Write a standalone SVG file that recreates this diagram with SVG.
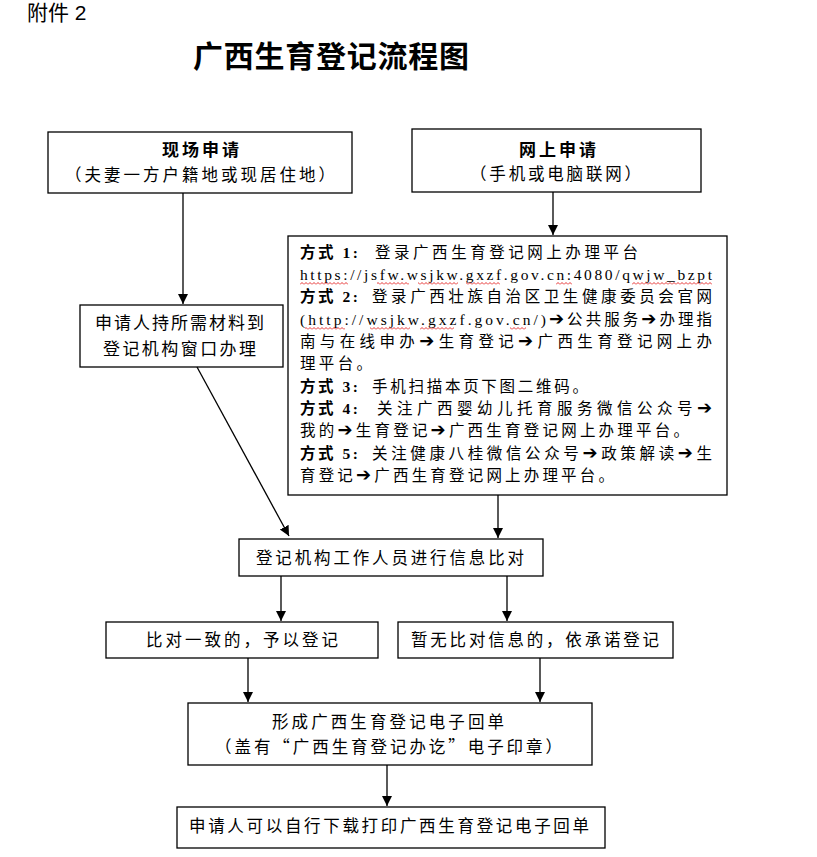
<svg xmlns="http://www.w3.org/2000/svg" width="817" height="857" viewBox="0 0 817 857">
<style>
.t{font-family:"Noto Sans CJK SC",sans-serif;fill:#000;font-size:16.5px}
.h{font-weight:bold;font-size:17px}
.b4{font-family:"Liberation Serif","Noto Sans CJK SC",serif;font-size:15.5px;fill:#000}
.lab{font-weight:bold}
.ar{font-family:"DejaVu Sans",sans-serif;font-weight:bold;font-size:18px}
.box{fill:#fff;stroke:#000;stroke-width:1.3}
.conn line{stroke:#000;stroke-width:1.3;marker-end:url(#ah)}
.wv{fill:url(#wavy)}
</style>
<defs>
<marker id="ah" markerUnits="userSpaceOnUse" markerWidth="11" markerHeight="11" refX="10" refY="5" orient="auto">
<path d="M0,0 L10,5 L0,10 z" fill="#000"/>
</marker>
<pattern id="wavy" x="0" y="0" width="4" height="3" patternUnits="userSpaceOnUse">
<path d="M0,2.5 L2,0.5 L4,2.5" fill="none" stroke="#e00000" stroke-width="0.8"/>
</pattern>
</defs>
<rect width="817" height="857" fill="#fff"/>

<text x="27" y="20" style="font-family:'Liberation Sans','Noto Sans CJK SC',sans-serif;font-size:21px">附件 2</text>
<text x="193" y="67" class="t" style="font-size:30px;font-weight:bold" textLength="276" lengthAdjust="spacing">广西生育登记流程图</text>

<g id="node-onsite">
<rect class="box" x="48" y="132" width="304" height="61"/>
<text class="t h" x="162" y="156" textLength="77" lengthAdjust="spacing">现场申请</text>
<text class="t" x="65" y="181" textLength="270" lengthAdjust="spacing">（夫妻一方户籍地或现居住地）</text>
</g>

<g id="node-online">
<rect class="box" x="412" y="129" width="289" height="63"/>
<text class="t h" x="519" y="156" textLength="77" lengthAdjust="spacing">网上申请</text>
<text class="t" x="470" y="180" textLength="171" lengthAdjust="spacing">（手机或电脑联网）</text>
</g>

<g id="node-window">
<rect class="box" x="80" y="305" width="203" height="62"/>
<text class="t" style="font-size:17px" x="95" y="329" textLength="169" lengthAdjust="spacing">申请人持所需材料到</text>
<text class="t" style="font-size:17px" x="103" y="355" textLength="153" lengthAdjust="spacing">登记机构窗口办理</text>
</g>

<g id="node-methods">
<rect class="box" x="288" y="236" width="439" height="259"/>
<text class="b4 lab" x="300" y="258" textLength="58" lengthAdjust="spacing">方式 1:</text>
<text class="b4" x="375" y="258" textLength="263" lengthAdjust="spacing">登录广西生育登记网上办理平台</text>
<text class="b4" x="300" y="280" textLength="412" lengthAdjust="spacing">https://jsfw.wsjkw.gxzf.gov.cn:4080/qwjw_bzpt</text>
<text class="b4 lab" x="300" y="302" textLength="58" lengthAdjust="spacing">方式 2:</text>
<text class="b4" x="372" y="302" textLength="340" lengthAdjust="spacing">登录广西壮族自治区卫生健康委员会官网</text>
<text class="b4" x="300" y="325" textLength="412" lengthAdjust="spacing">(http://wsjkw.gxzf.gov.cn/)<tspan class="ar">➔</tspan>公共服务<tspan class="ar">➔</tspan>办理指</text>
<text class="b4" x="300" y="347" textLength="412" lengthAdjust="spacing">南与在线申办<tspan class="ar">➔</tspan>生育登记<tspan class="ar">➔</tspan>广西生育登记网上办</text>
<text class="b4" x="300" y="369" textLength="72" lengthAdjust="spacing">理平台。</text>
<text class="b4 lab" x="300" y="392" textLength="58" lengthAdjust="spacing">方式 3:</text>
<text class="b4" x="372" y="392" textLength="216" lengthAdjust="spacing">手机扫描本页下图二维码。</text>
<text class="b4 lab" x="300" y="414" textLength="58" lengthAdjust="spacing">方式 4:</text>
<text class="b4" x="377" y="414" textLength="335" lengthAdjust="spacing">关注广西婴幼儿托育服务微信公众号<tspan class="ar">➔</tspan></text>
<text class="b4" x="300" y="436" textLength="389" lengthAdjust="spacing">我的<tspan class="ar">➔</tspan>生育登记<tspan class="ar">➔</tspan>广西生育登记网上办理平台。</text>
<text class="b4 lab" x="300" y="459" textLength="58" lengthAdjust="spacing">方式 5:</text>
<text class="b4" x="372" y="459" textLength="340" lengthAdjust="spacing">关注健康八桂微信公众号<tspan class="ar">➔</tspan>政策解读<tspan class="ar">➔</tspan>生</text>
<text class="b4" x="300" y="481" textLength="314" lengthAdjust="spacing">育登记<tspan class="ar">➔</tspan>广西生育登记网上办理平台。</text>
<rect class="wv" x="300" y="282" width="48" height="3"/>
<rect class="wv" x="377" y="282" width="32" height="3"/>
<rect class="wv" x="418" y="282" width="40" height="3"/>
<rect class="wv" x="466" y="282" width="34" height="3"/>
<rect class="wv" x="556" y="282" width="16" height="3"/>
<rect class="wv" x="632" y="282" width="80" height="3"/>
<rect class="wv" x="305" y="327" width="40" height="3"/>
<rect class="wv" x="370" y="327" width="40" height="3"/>
<rect class="wv" x="420" y="327" width="34" height="3"/>
<rect class="wv" x="510" y="327" width="16" height="3"/>
</g>

<g id="node-compare">
<rect class="box" x="239" y="539" width="304" height="37"/>
<text class="t" x="256" y="564" textLength="268" lengthAdjust="spacing">登记机构工作人员进行信息比对</text>
</g>

<g id="node-match">
<rect class="box" x="106" y="622" width="272" height="36"/>
<text class="t" x="146" y="646" textLength="192" lengthAdjust="spacing">比对一致的，予以登记</text>
</g>

<g id="node-promise">
<rect class="box" x="398" y="622" width="275" height="36"/>
<text class="t" x="411" y="646" textLength="248" lengthAdjust="spacing">暂无比对信息的，依承诺登记</text>
</g>

<g id="node-receipt">
<rect class="box" x="188" y="703" width="404" height="62"/>
<text class="t" x="272" y="728" textLength="232" lengthAdjust="spacing">形成广西生育登记电子回单</text>
<text class="t" x="215" y="753" textLength="347" lengthAdjust="spacing">（盖有“广西生育登记办讫”电子印章）</text>
</g>

<g id="node-download">
<rect class="box" x="177" y="807" width="428" height="41"/>
<text class="t" x="189" y="832" textLength="400" lengthAdjust="spacing">申请人可以自行下载打印广西生育登记电子回单</text>
</g>

<g id="connectors" class="conn">
<line x1="183" y1="193" x2="183" y2="304"/>
<line x1="553" y1="192" x2="553" y2="235"/>
<line x1="197" y1="367" x2="289" y2="536"/>
<line x1="498" y1="495" x2="498" y2="538"/>
<line x1="281" y1="576" x2="281" y2="621"/>
<line x1="507" y1="576" x2="507" y2="621"/>
<line x1="248" y1="658" x2="248" y2="702"/>
<line x1="540" y1="658" x2="540" y2="702"/>
<line x1="387" y1="765" x2="387" y2="806"/>
</g>
</svg>
